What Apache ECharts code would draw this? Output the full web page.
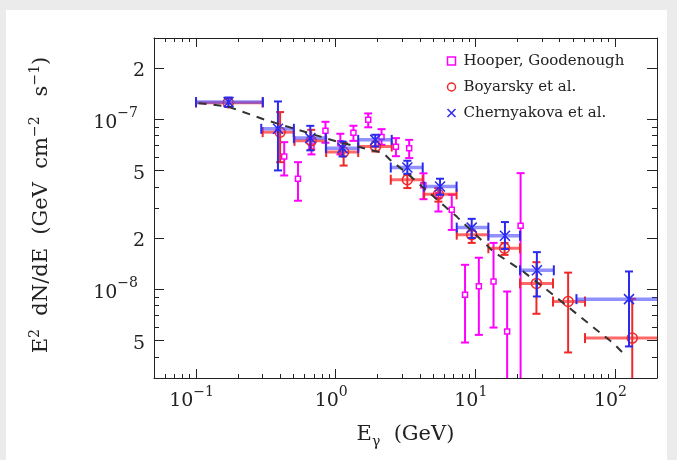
<!DOCTYPE html>
<html>
<head>
<meta charset="utf-8">
<script src="https://cdn.jsdelivr.net/npm/echarts@6/dist/echarts.min.js"></script>
<style>
  html, body { margin: 0; padding: 0; background: #ebebeb; }
  #main { width: 677px; height: 460px; }
</style>
</head>
<body>
<div id="main"></div>
<script>
'use strict';
/* gamma-ray spectrum of the Galactic centre: three analyses + model */

// Hooper, Goodenough : energy [GeV], flux, flux low, flux high
var hgE = [0.428, 0.537, 0.671, 0.845, 1.08, 1.34, 1.71, 2.13, 2.70, 3.36, 4.25, 5.44, 6.78, 8.44, 10.6, 13.5, 16.9, 21.1];
var hgF = [6.03e-8, 4.46e-8, 6.9e-8, 8.53e-8, 7.2e-8, 8.31e-8, 9.9e-8, 7.84e-8, 6.87e-8, 6.75e-8, 4.08e-8, 3.57e-8, 2.93e-8, 9.26e-9, 1.04e-8, 1.11e-8, 5.64e-9, 2.36e-8];
var hgLo = [4.66e-8, 3.31e-8, 6.2e-8, 7.26e-8, 6.2e-8, 7.45e-8, 8.95e-8, 7.06e-8, 6.05e-8, 5.9e-8, 3.38e-8, 2.86e-8, 2.23e-8, 4.85e-9, 5.38e-9, 5.94e-9, 1e-9, 1e-9];
var hgHi = [7.32e-8, 5.58e-8, 7.7e-8, 9.64e-8, 8.2e-8, 9.14e-8, 1.08e-7, 8.73e-8, 7.73e-8, 7.55e-8, 4.8e-8, 3.94e-8, 3.59e-8, 1.39e-8, 1.53e-8, 1.87e-8, 9.68e-9, 4.81e-8];

// Boyarsky et al.
var boE = [0.17, 0.40, 0.668, 1.14, 1.93, 3.26, 5.44, 9.42, 16.2, 27.4, 46.2, 133];
var boElo = [0.1, 0.3, 0.507, 0.855, 1.45, 2.48, 4.3, 7.36, 12.4, 20.9, 36, 61];
var boEhi = [0.3, 0.5, 0.855, 1.45, 2.52, 4.2, 7.34, 12.4, 20.9, 36, 61, 300];
var boF = [1.25e-7, 8.38e-8, 7.45e-8, 6.4e-8, 6.9e-8, 4.4e-8, 3.61e-8, 2.09e-8, 1.74e-8, 1.08e-8, 8.45e-9, 5.15e-9];
var boFlo = [1.18e-7, 5.58e-8, 6.6e-8, 5.33e-8, 6.45e-8, 3.93e-8, 3.27e-8, 1.87e-8, 1.59e-8, 7.16e-9, 4.24e-9, 1e-9];
var boFhi = [1.33e-7, 1.10e-7, 8.65e-8, 7.26e-8, 7.38e-8, 4.7e-8, 3.94e-8, 2.21e-8, 1.87e-8, 1.44e-8, 1.25e-8, 8.77e-9];

// Chernyakova et al.
var chE = [0.171, 0.386, 0.658, 1.12, 1.92, 3.26, 5.59, 9.42, 16.3, 27.6, 126];
var chElo = [0.1, 0.293, 0.502, 0.851, 1.45, 2.48, 4.3, 7.36, 12.4, 20.9, 53];
var chEhi = [0.301, 0.502, 0.851, 1.45, 2.52, 4.2, 7.34, 12.4, 20.9, 36.5, 300];
var chF = [1.26e-7, 8.77e-8, 7.73e-8, 6.75e-8, 7.55e-8, 5.19e-8, 4.01e-8, 2.30e-8, 2.06e-8, 1.29e-8, 8.73e-9];
var chFlo = [1.18e-7, 4.99e-8, 6.55e-8, 6.03e-8, 6.9e-8, 4.77e-8, 3.59e-8, 2.0e-8, 1.72e-8, 9.05e-9, 4.6e-9];
var chFhi = [1.34e-7, 1.27e-7, 9.13e-8, 7.38e-8, 8.09e-8, 5.69e-8, 4.46e-8, 2.59e-8, 2.48e-8, 1.65e-8, 1.27e-8];

// dashed model curve
var modelE = [0.1043, 0.167, 0.313, 1.02, 2.2, 2.45, 3.23, 4.02, 7.36, 13.5, 22, 36.1, 56.1, 97, 121];
var modelF = [1.24e-7, 1.19e-7, 9.9e-8, 7.38e-8, 6.31e-8, 5.77e-8, 4.81e-8, 4.11e-8, 2.67e-8, 1.66e-8, 1.27e-8, 9.26e-9, 6.9e-9, 4.81e-9, 4.02e-9];

// tick labels
var xTicks = [0.1, 1, 10, 100];
var xTickLabels = ['10^−1', '10^0', '10^1', '10^2'];
var yTicks = [2e-7, 1e-7, 5e-8, 2e-8, 1e-8, 5e-9];
var yTickLabels = ['2', '10^−7', '5', '2', '10^−8', '5'];

var lg = function(v) { return Math.log10(v); };
var FONT = 'DejaVu Serif';
var INK = '#222';

var xMin = lg(0.05), xMax = lg(200);
var yMin = lg(3e-9), yMax = lg(3e-7);

// minor ticks 2..9 of every decade
function minorTicks(lo, hi, skip) {
  var out = [];
  for (var d = -10; d <= 3; d++) {
    for (var k = 2; k <= 9; k++) {
      var v = k * Math.pow(10, d);
      if (v >= lo && v <= hi && skip.indexOf(k) < 0) out.push(lg(v));
    }
  }
  return out;
}

function richLabel(txt) {
  var p = txt.split('^');
  return '{b|' + p[0] + '}' + (p.length > 1 ? '{s|' + p[1] + '}' : '');
}

function nearest(arr, v) {
  var best = 0;
  for (var i = 1; i < arr.length; i++) {
    if (Math.abs(lg(arr[i]) - v) < Math.abs(lg(arr[best]) - v)) best = i;
  }
  return best;
}

function frameAxis(position, min, max, ticks, len, showLine) {
  return {
    type: 'value',
    position: position,
    min: min,
    max: max,
    axisLine: { show: showLine, onZero: false, lineStyle: { color: INK, width: 1 } },
    axisTick: { show: true, inside: true, length: len, customValues: ticks, lineStyle: { color: INK, width: 1 } },
    axisLabel: { show: false },
    splitLine: { show: false }
  };
}

var xMajor = xTicks.map(lg);
var xMinor = minorTicks(0.05, 200, []);
var yMajor = yTicks.map(lg);
var yMinor = minorTicks(3e-9, 3e-7, [2, 5]);

var xBottom = frameAxis('bottom', xMin, xMax, xMajor, 9, true);
xBottom.axisLabel = {
  show: true,
  customValues: xMajor,
  margin: 7,
  formatter: function(v) { return richLabel(xTickLabels[nearest(xTicks, v)]); },
  rich: {
    b: { fontFamily: FONT, fontSize: 19, color: INK, lineHeight: 26, verticalAlign: 'bottom' },
    s: { fontFamily: FONT, fontSize: 14, color: INK, lineHeight: 14, verticalAlign: 'top', padding: [0, 9, 0, 0] }
  }
};
xBottom.name = '{b|E}{u|γ}{b|  (GeV)}';
xBottom.nameLocation = 'middle';
xBottom.nameGap = 43;
xBottom.nameTextStyle = {
  rich: {
    b: { fontFamily: FONT, fontSize: 21, color: INK, lineHeight: 28 },
    u: { fontFamily: FONT, fontSize: 14, color: INK, lineHeight: 14, verticalAlign: 'bottom' }
  }
};

var yLeft = frameAxis('left', yMin, yMax, yMajor, 10, true);
yLeft.axisLabel = {
  show: true,
  customValues: yMajor,
  margin: 9,
  formatter: function(v) { return richLabel(yTickLabels[nearest(yTicks, v)]); },
  rich: {
    b: { fontFamily: FONT, fontSize: 19, color: INK, lineHeight: 26, verticalAlign: 'bottom' },
    s: { fontFamily: FONT, fontSize: 14, color: INK, lineHeight: 14, verticalAlign: 'top', padding: [0, 7, 0, 0] }
  }
};
yLeft.name = '{b|E}{s|2}{b|  dN/dE  (GeV  cm}{s|−2}{b|   s}{s|−1}{b|)}';
yLeft.nameLocation = 'middle';
yLeft.nameRotate = 90;
yLeft.nameGap = 98;
yLeft.nameTextStyle = {
  padding: [0, 0, 0, 6],
  rich: {
    b: { fontFamily: FONT, fontSize: 21, color: INK, lineHeight: 28 },
    s: { fontFamily: FONT, fontSize: 14, color: INK, lineHeight: 14, verticalAlign: 'top' }
  }
};

// error bar drawing, all through api.coord
function errorBars(hStyle, vStyle, marker) {
  return function(params, api) {
    var x = api.value(0), y = api.value(1);
    var xlo = api.value(2), xhi = api.value(3), ylo = api.value(4), yhi = api.value(5);
    var c = api.coord([x, y]);
    var pb = api.coord([x, ylo]), pt = api.coord([x, yhi]);
    var cap = 4;
    var kids = [];
    if (hStyle) {
      var pl = api.coord([xlo, y]), pr = api.coord([xhi, y]);
      kids.push({ type: 'line', shape: { x1: pl[0], y1: pl[1], x2: pr[0], y2: pr[1] }, style: hStyle });
      kids.push({ type: 'line', shape: { x1: pl[0], y1: pl[1] - cap - 1, x2: pl[0], y2: pl[1] + cap + 1 }, style: vStyle });
      kids.push({ type: 'line', shape: { x1: pr[0], y1: pr[1] - cap - 1, x2: pr[0], y2: pr[1] + cap + 1 }, style: vStyle });
    }
    kids.push({ type: 'line', shape: { x1: pb[0], y1: pb[1], x2: pt[0], y2: pt[1] }, style: vStyle });
    kids.push({ type: 'line', shape: { x1: pb[0] - cap, y1: pb[1], x2: pb[0] + cap, y2: pb[1] }, style: vStyle });
    kids.push({ type: 'line', shape: { x1: pt[0] - cap, y1: pt[1], x2: pt[0] + cap, y2: pt[1] }, style: vStyle });
    kids.push(marker(c));
    return { type: 'group', children: kids };
  };
}

var hgData = hgE.map(function(e, i) { return [lg(e), lg(hgF[i]), lg(e), lg(e), lg(hgLo[i]), lg(hgHi[i])]; });
var boData = boE.map(function(e, i) { return [lg(e), lg(boF[i]), lg(boElo[i]), lg(boEhi[i]), lg(boFlo[i]), lg(boFhi[i])]; });
var chData = chE.map(function(e, i) { return [lg(e), lg(chF[i]), lg(chElo[i]), lg(chEhi[i]), lg(chFlo[i]), lg(chFhi[i])]; });
var modelData = modelE.map(function(e, i) { return [lg(e), lg(modelF[i])]; });

var MAG = '#ff00ff', RED = '#f02828', BLUE = '#2a2aee';

var chart = echarts.init(document.getElementById('main'));
chart.setOption({
  backgroundColor: '#ebebeb',
  animation: false,
  graphic: [{
    type: 'rect', silent: true, z: -10,
    shape: { x: 6, y: 10, width: 661, height: 450 },
    style: { fill: '#ffffff' }
  }],
  grid: { left: 154, top: 38, width: 503, height: 340, containLabel: false },
  xAxis: [
    xBottom,
    frameAxis('bottom', xMin, xMax, xMinor, 4, false),
    frameAxis('top', xMin, xMax, xMajor, 9, true),
    frameAxis('top', xMin, xMax, xMinor, 4, false)
  ],
  yAxis: [
    yLeft,
    frameAxis('left', yMin, yMax, yMinor, 5, false),
    frameAxis('right', yMin, yMax, yMajor, 10, true),
    frameAxis('right', yMin, yMax, yMinor, 5, false)
  ],
  legend: {
    orient: 'vertical',
    left: 445,
    top: 52,
    padding: 0,
    itemGap: 8,
    itemWidth: 8,
    itemHeight: 8,
    textStyle: { fontFamily: FONT, fontSize: 15, color: INK, lineHeight: 18, padding: [0, 0, 0, 3] },
    data: [
      { name: 'Hooper, Goodenough', icon: 'rect', itemStyle: { color: '#fff', borderColor: MAG, borderWidth: 1.5 } },
      { name: 'Boyarsky et al.', icon: 'circle', itemStyle: { color: '#fff', borderColor: RED, borderWidth: 1.5 } },
      { name: 'Chernyakova et al.', icon: 'path://M0,0L10,10M10,0L0,10', itemStyle: { color: 'none', borderColor: BLUE, borderWidth: 1.5 } }
    ]
  },
  series: [{
    name: 'Hooper, Goodenough',
    type: 'custom',
    clip: true,
    color: MAG,
    data: hgData,
    renderItem: errorBars(null, { stroke: MAG, lineWidth: 2 }, function(c) {
      return { type: 'rect', shape: { x: c[0] - 2.5, y: c[1] - 2.5, width: 5, height: 5 }, style: { fill: '#fff', stroke: MAG, lineWidth: 1.5 } };
    })
  }, {
    name: 'model',
    type: 'line',
    data: modelData,
    symbol: 'none',
    lineStyle: { color: '#333', width: 2, type: [8, 7] },
    z: 3
  }, {
    name: 'Boyarsky et al.',
    type: 'custom',
    clip: true,
    color: RED,
    data: boData,
    renderItem: errorBars({ stroke: 'rgba(255,40,40,0.7)', lineWidth: 3 }, { stroke: RED, lineWidth: 2 }, function(c) {
      return { type: 'circle', shape: { cx: c[0], cy: c[1], r: 5 }, style: { fill: 'none', stroke: RED, lineWidth: 1.5 } };
    })
  }, {
    name: 'Chernyakova et al.',
    type: 'custom',
    clip: true,
    color: BLUE,
    data: chData,
    renderItem: errorBars({ stroke: 'rgba(70,70,255,0.6)', lineWidth: 3.5 }, { stroke: BLUE, lineWidth: 2 }, function(c) {
      return {
        type: 'polyline',
        shape: { points: [[c[0] - 5, c[1] - 5], [c[0] + 5, c[1] + 5], [c[0], c[1]], [c[0] + 5, c[1] - 5], [c[0] - 5, c[1] + 5]] },
        style: { fill: 'none', stroke: BLUE, lineWidth: 1.5 }
      };
    })
  }]
});
</script>
</body>
</html>
